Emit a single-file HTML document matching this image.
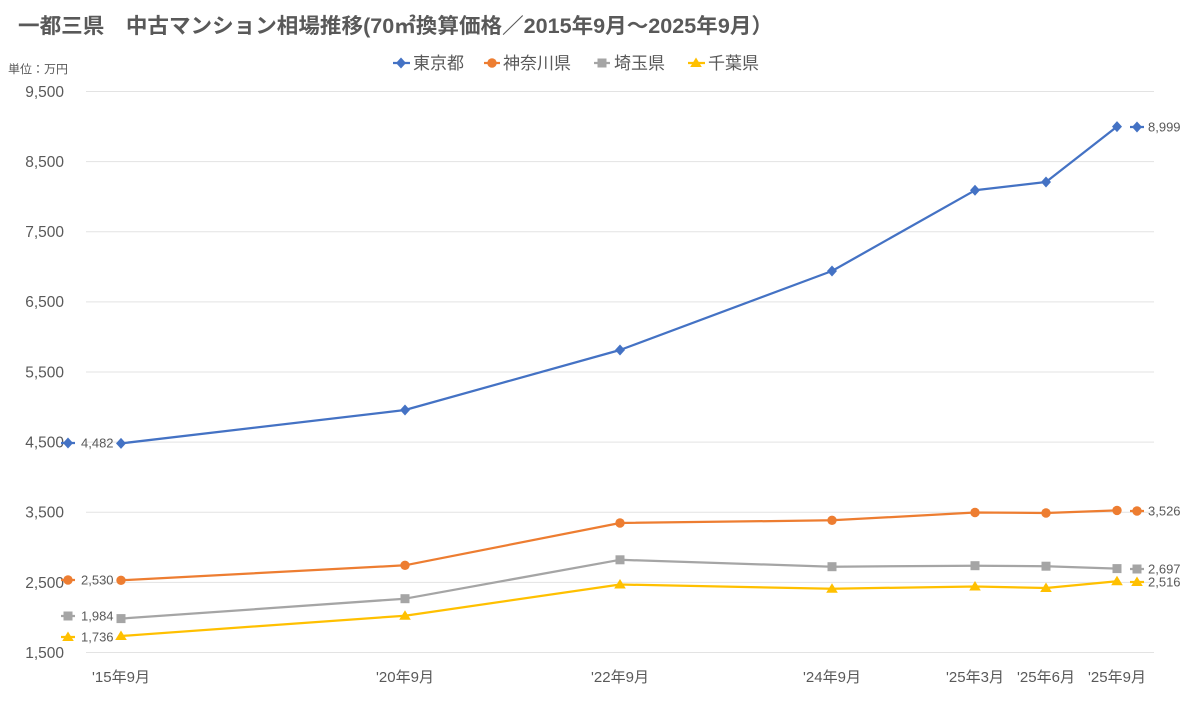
<!DOCTYPE html>
<html><head><meta charset="utf-8"><style>
html,body{margin:0;padding:0;background:#fff;}
svg{display:block;}
text{font-family:"Liberation Sans","Noto Sans CJK JP",sans-serif;fill:#595959;}
</style></head><body>
<svg width="1198" height="709" viewBox="0 0 1198 709" xmlns="http://www.w3.org/2000/svg">
<defs>
<g id="dia"><polygon points="0,-5.5 5,0 0,5.5 -5,0" fill="#4472C4"/></g>
<g id="cir"><circle r="4.7" fill="#ED7D31"/></g>
<g id="sq"><rect x="-4.5" y="-4.5" width="9" height="9" fill="#A5A5A5"/></g>
<g id="tri"><polygon points="0,-5.5 5.8,4 -5.8,4" fill="#FFC000"/></g>
</defs>
<!-- title -->
<text x="18" y="33" font-size="21" font-weight="bold" textLength="755" lengthAdjust="spacingAndGlyphs">一都三県　中古マンション相場推移(70㎡換算価格／2015年9月～2025年9月）</text>
<text x="8" y="73" font-size="11.5" fill="#404040" textLength="60" lengthAdjust="spacingAndGlyphs">単位：万円</text>
<!-- legend -->
<g font-size="17">
<line x1="393" y1="63" x2="410" y2="63" stroke="#4472C4" stroke-width="2.25"/><use href="#dia" x="401" y="63"/>
<text x="413" y="69">東京都</text>
<line x1="484" y1="63" x2="500" y2="63" stroke="#ED7D31" stroke-width="2.25"/><use href="#cir" x="492" y="63"/>
<text x="503" y="69">神奈川県</text>
<line x1="594" y1="63" x2="610" y2="63" stroke="#A5A5A5" stroke-width="2.25"/><use href="#sq" x="602" y="63"/>
<text x="614" y="69">埼玉県</text>
<line x1="688" y1="63" x2="705" y2="63" stroke="#FFC000" stroke-width="2.25"/><use href="#tri" x="696" y="63"/>
<text x="708" y="69">千葉県</text>
</g>
<!-- gridlines -->
<g stroke="#e3e3e3" stroke-width="1">
<line x1="86" y1="91.5" x2="1154" y2="91.5"/>
<line x1="86" y1="161.6" x2="1154" y2="161.6"/>
<line x1="86" y1="231.8" x2="1154" y2="231.8"/>
<line x1="86" y1="301.9" x2="1154" y2="301.9"/>
<line x1="86" y1="372" x2="1154" y2="372"/>
<line x1="86" y1="442.1" x2="1154" y2="442.1"/>
<line x1="86" y1="512.3" x2="1154" y2="512.3"/>
<line x1="86" y1="582.4" x2="1154" y2="582.4"/>
<line x1="86" y1="652.5" x2="1154" y2="652.5"/>
</g>
<!-- y labels -->
<g font-size="15.5" text-anchor="end">
<text x="64" y="97">9,500</text>
<text x="64" y="167">8,500</text>
<text x="64" y="237">7,500</text>
<text x="64" y="307">6,500</text>
<text x="64" y="377.5">5,500</text>
<text x="64" y="447.5">4,500</text>
<text x="64" y="517.5">3,500</text>
<text x="64" y="588">2,500</text>
<text x="64" y="658">1,500</text>
</g>
<!-- x labels -->
<g font-size="15" text-anchor="middle">
<text x="121" y="682">'15年9月</text>
<text x="405" y="682">'20年9月</text>
<text x="620" y="682">'22年9月</text>
<text x="832" y="682">'24年9月</text>
<text x="975" y="682">'25年3月</text>
<text x="1046" y="682">'25年6月</text>
<text x="1117" y="682">'25年9月</text>
</g>
<!-- series -->
<g fill="none" stroke-width="2.25" stroke-linejoin="round">
<polyline stroke="#4472C4" points="121,443.4 405,410 620,350 832,271 975,190.3 1046,182 1117,126.6"/>
<polyline stroke="#ED7D31" points="121,580.3 405,565.3 620,523 832,520.3 975,512.5 1046,513 1117,510.4"/>
<polyline stroke="#A5A5A5" points="121,618.6 405,598.7 620,559.8 832,566.7 975,565.7 1046,566.2 1117,568.6"/>
<polyline stroke="#FFC000" points="121,636 405,615.7 620,584.5 832,588.7 975,586.5 1046,588 1117,581.3"/>
</g>
<g>
<use href="#dia" x="121" y="443.4"/><use href="#dia" x="405" y="410"/><use href="#dia" x="620" y="350"/><use href="#dia" x="832" y="271"/><use href="#dia" x="975" y="190.3"/><use href="#dia" x="1046" y="182"/><use href="#dia" x="1117" y="126.6"/>
<use href="#cir" x="121" y="580.3"/><use href="#cir" x="405" y="565.3"/><use href="#cir" x="620" y="523"/><use href="#cir" x="832" y="520.3"/><use href="#cir" x="975" y="512.5"/><use href="#cir" x="1046" y="513"/><use href="#cir" x="1117" y="510.4"/>
<use href="#sq" x="121" y="618.6"/><use href="#sq" x="405" y="598.7"/><use href="#sq" x="620" y="559.8"/><use href="#sq" x="832" y="566.7"/><use href="#sq" x="975" y="565.7"/><use href="#sq" x="1046" y="566.2"/><use href="#sq" x="1117" y="568.6"/>
<use href="#tri" x="121" y="636"/><use href="#tri" x="405" y="615.7"/><use href="#tri" x="620" y="584.5"/><use href="#tri" x="832" y="588.7"/><use href="#tri" x="975" y="586.5"/><use href="#tri" x="1046" y="588"/><use href="#tri" x="1117" y="581.3"/>
</g>
<!-- data labels left -->
<g font-size="13" fill="#404040">
<line x1="61" y1="443" x2="75" y2="443" stroke="#4472C4" stroke-width="2.25"/><use href="#dia" x="68" y="443"/>
<text x="81" y="447.5" fill="#404040">4,482</text>
<line x1="61" y1="580" x2="75" y2="580" stroke="#ED7D31" stroke-width="2.25"/><use href="#cir" x="68" y="580"/>
<text x="81" y="584.5" fill="#404040">2,530</text>
<line x1="61" y1="616" x2="75" y2="616" stroke="#A5A5A5" stroke-width="2.25"/><use href="#sq" x="68" y="616"/>
<text x="81" y="620.5" fill="#404040">1,984</text>
<line x1="61" y1="637" x2="75" y2="637" stroke="#FFC000" stroke-width="2.25"/><use href="#tri" x="68" y="637"/>
<text x="81" y="641.5" fill="#404040">1,736</text>
<!-- right -->
<line x1="1130" y1="127" x2="1144" y2="127" stroke="#4472C4" stroke-width="2.25"/><use href="#dia" x="1137" y="127"/>
<text x="1148" y="131.5" fill="#404040">8,999</text>
<line x1="1130" y1="511" x2="1144" y2="511" stroke="#ED7D31" stroke-width="2.25"/><use href="#cir" x="1137" y="511"/>
<text x="1148" y="515.5" fill="#404040">3,526</text>
<line x1="1130" y1="569" x2="1144" y2="569" stroke="#A5A5A5" stroke-width="2.25"/><use href="#sq" x="1137" y="569"/>
<text x="1148" y="573.5" fill="#404040">2,697</text>
<line x1="1130" y1="582" x2="1144" y2="582" stroke="#FFC000" stroke-width="2.25"/><use href="#tri" x="1137" y="582"/>
<text x="1148" y="586.5" fill="#404040">2,516</text>
</g>
</svg>
</body></html>
